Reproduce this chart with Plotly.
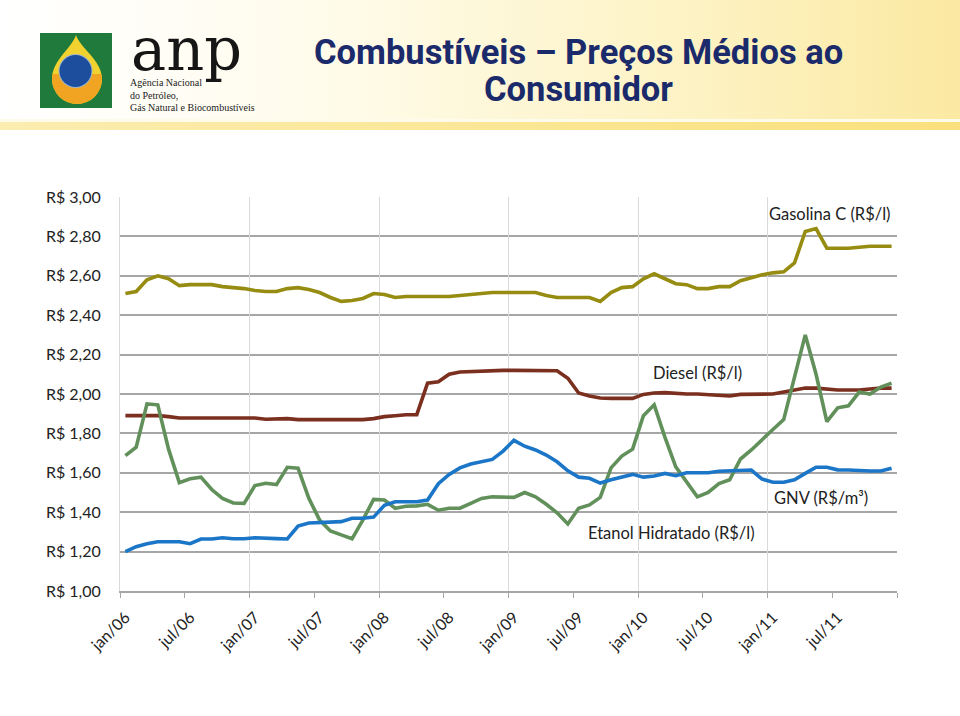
import base64
import plotly.graph_objects as go

# ---------------- data ----------------
months = list(range(72))  # jan/06 .. dec/11

gasolina = [2.51, 2.52, 2.58, 2.60, 2.585, 2.55, 2.555, 2.555, 2.555, 2.545, 2.54, 2.535,
            2.525, 2.52, 2.52, 2.535, 2.54, 2.53, 2.515, 2.49, 2.47, 2.475, 2.485, 2.51,
            2.505, 2.49, 2.495, 2.495, 2.495, 2.495, 2.495, 2.50, 2.505, 2.51, 2.515, 2.515,
            2.515, 2.515, 2.515, 2.50, 2.49, 2.49, 2.49, 2.49, 2.47, 2.515, 2.54, 2.545,
            2.585, 2.61, 2.585, 2.56, 2.555, 2.535, 2.535, 2.545, 2.545, 2.575, 2.59, 2.605,
            2.615, 2.62, 2.665, 2.825, 2.84, 2.74, 2.74, 2.74, 2.745, 2.75, 2.75, 2.75]

diesel = [1.89, 1.89, 1.89, 1.89, 1.885, 1.878, 1.878, 1.878, 1.878, 1.878, 1.878, 1.878,
          1.878, 1.872, 1.875, 1.875, 1.87, 1.87, 1.87, 1.87, 1.87, 1.87, 1.87, 1.875,
          1.885, 1.89, 1.895, 1.895, 2.055, 2.062, 2.10, 2.112, 2.115, 2.118, 2.12, 2.12,
          2.12, 2.12, 2.12, 2.12, 2.118, 2.08, 2.005, 1.99, 1.98, 1.978, 1.978, 1.978,
          1.998, 2.005, 2.007, 2.003, 2.0, 2.0, 1.997, 1.992, 1.99, 1.998, 2.0, 2.0,
          2.0, 2.01, 2.02, 2.03, 2.03, 2.025, 2.02, 2.02, 2.02, 2.025, 2.03, 2.03]

etanol = [1.687, 1.73, 1.95, 1.945, 1.72, 1.55, 1.57, 1.578, 1.515, 1.47, 1.447, 1.445,
          1.535, 1.547, 1.54, 1.628, 1.623, 1.47, 1.36, 1.305, 1.285, 1.265, 1.36, 1.465,
          1.462, 1.42, 1.43, 1.432, 1.44, 1.41, 1.42, 1.42, 1.445, 1.47, 1.478, 1.478,
          1.475, 1.50, 1.478, 1.44, 1.397, 1.34, 1.42, 1.437, 1.475, 1.625, 1.685, 1.72,
          1.89, 1.945, 1.78, 1.63, 1.55, 1.478, 1.50, 1.545, 1.565, 1.67, 1.716, 1.77,
          1.82, 1.87, 2.085, 2.30, 2.10, 1.86, 1.93, 1.94, 2.01, 2.0, 2.035, 2.055]

gnv = [1.20, 1.225, 1.24, 1.25, 1.25, 1.25, 1.24, 1.264, 1.264, 1.27, 1.265, 1.265,
       1.27, 1.27, 1.266, 1.264, 1.33, 1.345, 1.347, 1.352, 1.352, 1.369, 1.369, 1.375,
       1.435, 1.453, 1.453, 1.453, 1.462, 1.545, 1.592, 1.625, 1.645, 1.655, 1.668, 1.71,
       1.765, 1.735, 1.716, 1.69, 1.656, 1.61, 1.578, 1.572, 1.548, 1.565, 1.578, 1.592,
       1.578, 1.584, 1.597, 1.585, 1.60, 1.60, 1.60, 1.608, 1.61, 1.612, 1.614, 1.568,
       1.552, 1.552, 1.565, 1.597, 1.628, 1.628, 1.615, 1.614, 1.61, 1.609, 1.609, 1.623]

series_names = ["Gasolina C (R$/l)", "Diesel (R$/l)", "Etanol Hidratado (R$/l)", "GNV (R$/m³)"]
series_colors = ["#968C12", "#7B2F1E", "#62905B", "#1C76C8"]

x_label_vals = list(range(0, 72, 6))
x_tick_text = ["jan/06", "jul/06", "jan/07", "jul/07", "jan/08", "jul/08",
               "jan/09", "jul/09", "jan/10", "jul/10", "jan/11", "jul/11"]
y_tick_vals = [1.0, 1.2, 1.4, 1.6, 1.8, 2.0, 2.2, 2.4, 2.6, 2.8, 3.0]
y_tick_text = ["R$ 1,00", "R$ 1,20", "R$ 1,40", "R$ 1,60", "R$ 1,80", "R$ 2,00",
               "R$ 2,20", "R$ 2,40", "R$ 2,60", "R$ 2,80", "R$ 3,00"]

# ---------------- geometry helpers (pixel -> paper) ----------------
W, H = 960, 716
L, R, T, B = 120, 897, 197, 591
PW, PH = R - L, B - T


def px(xp):
    return (xp - L) / PW


def py(yp):
    return (B - yp) / PH


x_tick_marks = [m - 0.5 for m in range(0, 73, 6)]
x_grid = [m - 0.5 for m in range(0, 73, 12)]

fig = go.Figure()
for name, vals, col in zip(series_names, [gasolina, diesel, etanol, gnv], series_colors):
    fig.add_trace(go.Scatter(x=months, y=vals, mode="lines", name=name,
                             line=dict(color=col, width=3.6), hoverinfo="skip"))
# invisible trace to activate the gridline axis
fig.add_trace(go.Scatter(x=months, y=gnv, xaxis="x2", mode="lines",
                         line=dict(width=0), opacity=0, showlegend=False, hoverinfo="skip"))

# ---------------- header graphic (gradient + logo drawing) ----------------
svg = '''<svg xmlns="http://www.w3.org/2000/svg" width="960" height="130" viewBox="0 0 960 130">
<defs>
<linearGradient id="g" x1="0" x2="1" y1="0" y2="0">
<stop offset="0" stop-color="#FFFFFF"/><stop offset="0.3" stop-color="#FFFCEE"/>
<stop offset="0.7" stop-color="#FDF3C6"/><stop offset="1" stop-color="#FBE9A2"/></linearGradient>
<linearGradient id="b" x1="0" x2="1" y1="0" y2="0">
<stop offset="0" stop-color="#FBEDB0"/><stop offset="1" stop-color="#FAE07C"/></linearGradient>
<clipPath id="c"><path d="M76,35 C72,48 52,60 52,79 A25,25 0 0 0 102,79 C102,60 80,48 76,35 Z"/></clipPath>
</defs>
<rect x="0" y="0" width="960" height="121" fill="url(#g)"/>
<rect x="0" y="119" width="960" height="3" fill="#FFFBEA"/>
<rect x="0" y="122" width="960" height="8" fill="url(#b)"/>
<rect x="40" y="33" width="72" height="75" fill="#1F7A3B"/>
<path d="M76,35 C72,48 52,60 52,79 A25,25 0 0 0 102,79 C102,60 80,48 76,35 Z" fill="#F2D22E"/>
<rect x="40" y="74" width="72" height="40" fill="#F0A421" clip-path="url(#c)"/>
<circle cx="75.5" cy="71" r="17" fill="#9FB6C8"/>
<circle cx="75.5" cy="71" r="16" fill="#1D4E9E"/>
</svg>'''
src = "data:image/svg+xml;base64," + base64.b64encode(svg.encode()).decode()

fig.add_layout_image(dict(source=src, xref="paper", yref="paper",
                          x=px(0), y=py(0), sizex=960 / PW, sizey=130 / PH,
                          xanchor="left", yanchor="top", sizing="stretch", layer="below"))

annotations = []
# title
title_font = dict(family="Roboto, Liberation Sans, sans-serif", size=34.5, color="#1B2A6B")
annotations.append(dict(text="<b>Combustíveis – Preços Médios ao</b>", x=px(578), y=py(52),
                        font=title_font))
annotations.append(dict(text="<b>Consumidor</b>", x=px(578), y=py(89), font=title_font))
# logo text
annotations.append(dict(text="anp", x=px(129), y=py(49), xanchor="left",
                        font=dict(family="DejaVu Serif, Liberation Serif, serif", size=59,
                                  color="#161616")))
small = dict(family="Liberation Serif, DejaVu Serif, serif", size=10, color="#222222")
for t, yy in [("Agência Nacional", 83), ("do Petróleo,", 95), ("Gás Natural e Biocombustíveis", 107)]:
    annotations.append(dict(text=t, x=px(128), y=py(yy), xanchor="left", font=small))

# series labels
lab_font = dict(family="Lato, Noto Sans, sans-serif", size=16.5, color="#222222")
for t, xx, yy in [("Gasolina C (R$/l)", 830, 214), ("Diesel (R$/l)", 697, 373),
                  ("Etanol Hidratado (R$/l)", 671, 533), ("GNV (R$/m³)", 821, 498)]:
    annotations.append(dict(text=t, x=px(xx), y=py(yy), font=lab_font))

for a in annotations:
    a.setdefault("xref", "paper")
    a.setdefault("yref", "paper")
    a.setdefault("showarrow", False)
    a.setdefault("xanchor", "center")
    a.setdefault("yanchor", "middle")

fig.update_layout(
    width=W, height=H,
    margin=dict(l=L, r=W - R, t=T, b=H - B, pad=0),
    paper_bgcolor="white", plot_bgcolor="white",
    showlegend=False,
    font=dict(family="Lato, Noto Sans, sans-serif", size=16, color="#222222"),
    annotations=annotations,
    xaxis=dict(range=[-0.5, 71.5], tickmode="array", tickvals=x_label_vals, ticktext=x_tick_text,
               tickangle=-45, ticks="", showgrid=False, showline=True,
               linecolor="#A6A6A6", linewidth=1.5, zeroline=False, ticklabelstandoff=9,
               tickfont=dict(size=16, color="#222222"),
               minor=dict(tickmode="array", tickvals=x_tick_marks, ticks="outside",
                          ticklen=5, tickcolor="#A6A6A6", tickwidth=1, showgrid=False)),
    xaxis2=dict(range=[-0.5, 71.5], overlaying="x", anchor="y", tickmode="array",
                tickvals=x_grid, showticklabels=False, ticks="", showgrid=True,
                gridcolor="#D9D9D9", gridwidth=1.2, zeroline=False, showline=False),
    yaxis=dict(range=[1.0, 3.0], tickmode="array", tickvals=y_tick_vals, ticktext=y_tick_text,
               showgrid=True, gridcolor="#A6A6A6", gridwidth=1.5, zeroline=False,
               showline=True, linecolor="#D9D9D9", ticks="", ticklabelstandoff=15,
               tickfont=dict(size=16, color="#222222")),
)

fig.write_html("out.html", config={"displayModeBar": False},
               post_script="document.body.style.margin='0';")
